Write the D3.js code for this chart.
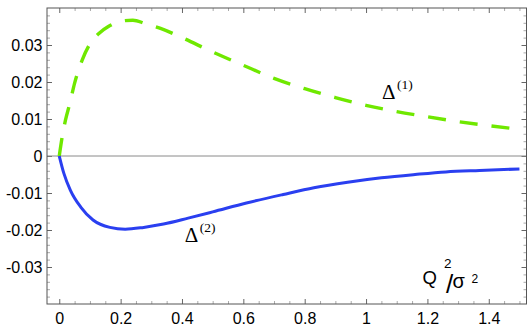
<!DOCTYPE html>
<html>
<head>
<meta charset="utf-8">
<script src="https://cdn.jsdelivr.net/npm/d3@7"></script>
<style>
  body { margin: 0; background: #fff; }
  .tick text { font-family: "Liberation Sans", Arial, sans-serif; font-size: 16px; fill: #000; }
  .lbl { font-family: "Liberation Serif", "Times New Roman", serif; fill: #000; }
  .qlbl { font-family: "Liberation Sans", Arial, sans-serif; fill: #000; }
</style>
</head>
<body>
<div class="visualization"></div>
<script>
// Delta^(1), green dashed
const q1 = [0, 0.01, 0.02, 0.035, 0.05, 0.075, 0.1, 0.13, 0.16, 0.2, 0.24, 0.28, 0.33, 0.4, 0.5, 0.6, 0.7, 0.8, 0.9, 1.0, 1.1, 1.2, 1.3, 1.4, 1.5];
const delta1 = [0, 0.0054, 0.0096, 0.0144, 0.0197, 0.026, 0.0303, 0.0332, 0.035, 0.0364, 0.0367, 0.0358, 0.0345, 0.032, 0.0281, 0.0245, 0.021, 0.0182, 0.0158, 0.0137, 0.012, 0.0106, 0.0093, 0.0082, 0.0072];

// Delta^(2), blue solid
const q2 = [0, 0.015, 0.036, 0.07, 0.11, 0.165, 0.215, 0.275, 0.34, 0.42, 0.5, 0.61, 0.73, 0.83, 0.94, 1.05, 1.16, 1.26, 1.37, 1.5];
const delta2 = [0, -0.0047, -0.0092, -0.0138, -0.0173, -0.0193, -0.0198, -0.0193, -0.0184, -0.0168, -0.0151, -0.0127, -0.0104, -0.0086, -0.0071, -0.0059, -0.005, -0.0043, -0.0039, -0.0035];

const xTicks = [0, 0.2, 0.4, 0.6, 0.8, 1, 1.2, 1.4];
const xTickLabels = ["0", "0.2", "0.4", "0.6", "0.8", "1", "1.2", "1.4"];
const yTicks = [-0.03, -0.02, -0.01, 0, 0.01, 0.02, 0.03];
const yTickLabels = ["-0.03", "-0.02", "-0.01", "0", "0.01", "0.02", "0.03"];

const canvaswidth = 528;
const canvasheight = 326;
const padLeft = 47, padRight = 526.5, padTop = 8, padBottom = 304;

var svg = d3.select(".visualization").
append("svg").
attr("width", canvaswidth).
attr("height", canvasheight);

var x = d3.scaleLinear().domain([-0.04, 1.523]).range([padLeft, padRight]);
var y = d3.scaleLinear().domain([-0.04, 0.04]).range([padBottom, padTop]);

var xMinor = d3.range(0, 1.521, 0.05).filter(v => Math.abs(v / 0.2 - Math.round(v / 0.2)) > 1e-6);
var yMinor = d3.range(-0.038, 0.0381, 0.002).filter(v => Math.abs(v / 0.01 - Math.round(v / 0.01)) > 1e-6);

function styleAxis(g, col) {
  g.select(".domain").remove();
  g.selectAll(".tick line").attr("stroke", col);
}

// minor ticks, all four sides
svg.append("g").attr("transform", "translate(" + padLeft + ",0)").
call(d3.axisLeft(y).tickValues(yMinor).tickSize(-3).tickFormat("")).
call(g => styleAxis(g, "#aaa"));
svg.append("g").attr("transform", "translate(" + padRight + ",0)").
call(d3.axisRight(y).tickValues(yMinor).tickSize(-3).tickFormat("")).
call(g => styleAxis(g, "#aaa"));
svg.append("g").attr("transform", "translate(0," + padBottom + ")").
call(d3.axisBottom(x).tickValues(xMinor).tickSize(-3).tickFormat("")).
call(g => styleAxis(g, "#aaa"));
svg.append("g").attr("transform", "translate(0," + padTop + ")").
call(d3.axisTop(x).tickValues(xMinor).tickSize(-3).tickFormat("")).
call(g => styleAxis(g, "#aaa"));

// major ticks
svg.append("g").attr("transform", "translate(" + padLeft + ",0)").
call(d3.axisLeft(y).tickValues(yTicks).tickSize(-5).tickPadding(4.5).
tickFormat((d, i) => yTickLabels[i])).
call(g => styleAxis(g, "#666"));
svg.append("g").attr("transform", "translate(" + padRight + ",0)").
call(d3.axisRight(y).tickValues(yTicks).tickSize(-5).tickFormat("")).
call(g => styleAxis(g, "#666"));
svg.append("g").attr("transform", "translate(0," + padBottom + ")").
call(d3.axisBottom(x).tickValues(xTicks).tickSize(-5).tickPadding(8.5).
tickFormat((d, i) => xTickLabels[i])).
call(g => styleAxis(g, "#666"));
svg.append("g").attr("transform", "translate(0," + padTop + ")").
call(d3.axisTop(x).tickValues(xTicks).tickSize(-5).tickFormat("")).
call(g => styleAxis(g, "#666"));

// zero line
svg.append("line").
attr("x1", padLeft).attr("x2", padRight).
attr("y1", y(0)).attr("y2", y(0)).
attr("stroke", "#8a8a8a").attr("stroke-width", 1);

// frame
svg.append("rect").
attr("x", padLeft).attr("y", padTop).
attr("width", padRight - padLeft).attr("height", padBottom - padTop).
attr("fill", "none").attr("stroke", "#555").attr("stroke-width", 1);

var line = d3.line().
x(d => x(d[0])).
y(d => y(d[1])).
curve(d3.curveMonotoneX);

svg.append("path").
datum(q1.map((d, i) => [d, delta1[i]])).
attr("d", line).
attr("fill", "none").
attr("stroke", "#6fe800").
attr("stroke-width", 3.4).
attr("stroke-dasharray", "18,14");

svg.append("path").
datum(q2.map((d, i) => [d, delta2[i]])).
attr("d", line).
attr("fill", "none").
attr("stroke", "#2a3ff0").
attr("stroke-width", 3);

// curve labels
function deltaLabel(qx, vy, sup) {
  svg.append("text").attr("class", "lbl").
  attr("x", x(qx)).attr("y", y(vy)).
  style("font-size", "21px").
  text("\u0394");
  svg.append("text").attr("class", "lbl").
  attr("x", x(qx) + 15).attr("y", y(vy) - 10.5).
  style("font-size", "13.5px").
  text(sup);
}
deltaLabel(1.052, 0.0153, "(1)");
deltaLabel(0.409, -0.0233, "(2)");

// axis label Q^2/sigma^2
var qx = x(1.184), qy = y(-0.0345);
svg.append("text").attr("class", "qlbl").attr("x", qx).attr("y", qy).
style("font-size", "18.5px").text("Q");
svg.append("text").attr("class", "qlbl").attr("x", qx + 21.5).attr("y", qy - 15.5).
style("font-size", "13.5px").text("2");
svg.append("text").attr("class", "qlbl").attr("x", qx + 23.5).attr("y", qy + 9.5).
style("font-size", "26px").text("/");
svg.append("text").attr("class", "qlbl").attr("x", qx + 30).attr("y", qy + 4.8).
style("font-size", "20px").text("\u03c3");
svg.append("text").attr("class", "qlbl").attr("x", qx + 49).attr("y", qy - 0.2).
style("font-size", "12px").text("2");
</script>
</body>
</html>
